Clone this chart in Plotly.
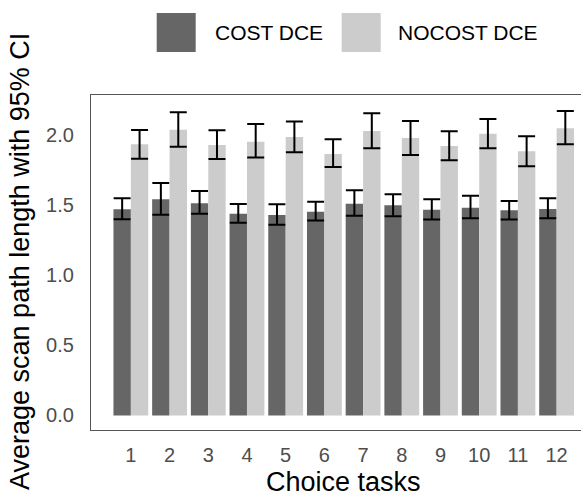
import plotly.graph_objects as go

# ---- data ----
tasks = list(range(1, 13))
tick_labels = [str(t) for t in tasks]

cost_mean = [1.473, 1.544, 1.516, 1.441, 1.432, 1.456, 1.513, 1.501, 1.470, 1.484, 1.466, 1.475]
cost_lo   = [1.401, 1.434, 1.441, 1.377, 1.363, 1.392, 1.427, 1.423, 1.399, 1.408, 1.399, 1.408]
cost_hi   = [1.551, 1.661, 1.604, 1.511, 1.509, 1.527, 1.609, 1.580, 1.544, 1.570, 1.532, 1.551]

nocost_mean = [1.937, 2.041, 1.932, 1.956, 1.989, 1.868, 2.032, 1.982, 1.925, 2.013, 1.887, 2.051]
nocost_lo   = [1.834, 1.920, 1.832, 1.842, 1.880, 1.775, 1.909, 1.861, 1.823, 1.909, 1.780, 1.937]
nocost_hi   = [2.039, 2.166, 2.037, 2.082, 2.099, 1.973, 2.159, 2.104, 2.030, 2.118, 1.994, 2.175]

series_names = ["COST DCE", "NOCOST DCE"]
colors = ["#666666", "#CCCCCC"]

W, H = 581, 498
ML, MR, MT, MB = 91, 0, 95, 68
PW, PH = W - ML - MR, H - MT - MB


def px_x(px):
    return (px - ML) / PW


def px_y(py):
    return (H - MB - py) / PH


fig = go.Figure()
for name, col, m, lo, hi in [
    (series_names[0], colors[0], cost_mean, cost_lo, cost_hi),
    (series_names[1], colors[1], nocost_mean, nocost_lo, nocost_hi),
]:
    fig.add_trace(go.Bar(
        x=tasks, y=m, name=name, marker=dict(color=col, line=dict(width=0)),
        error_y=dict(type="data", symmetric=False,
                     array=[h - v for h, v in zip(hi, m)],
                     arrayminus=[v - l for v, l in zip(m, lo)],
                     color="black", thickness=2, width=8.5),
        showlegend=False,
    ))

fig.update_layout(
    width=W, height=H,
    margin=dict(l=ML, r=MR, t=MT, b=MB, autoexpand=False),
    paper_bgcolor="white", plot_bgcolor="white",
    barmode="group", bargap=0.1, bargroupgap=0,
    font=dict(family="Liberation Sans, Arial, sans-serif", color="black"),
    xaxis=dict(range=[-0.03, 12.63], tickmode="array", tickvals=tasks, ticktext=tick_labels,
               showgrid=False, zeroline=False, showline=True, mirror=True,
               linecolor="#555555", linewidth=1.2, ticks="",
               ticklabelstandoff=7,
               tickfont=dict(size=20, color="#4D4D4D")),
    yaxis=dict(range=[-0.1036, 2.289], tickvals=[0, 0.5, 1.0, 1.5, 2.0], tickformat=".1f",
               showgrid=False, zeroline=False, showline=True, mirror=False,
               linecolor="#555555", linewidth=1.2, ticks="",
               ticklabelstandoff=12,
               tickfont=dict(size=20, color="#4D4D4D")),
)

# axis titles
fig.add_annotation(text="Choice tasks", xref="x", x=6.5, yref="paper", y=px_y(482),
                   xanchor="center", yanchor="middle", showarrow=False,
                   font=dict(size=27, color="black"))
fig.add_annotation(text="Average scan path length with 95% CI", xref="paper", x=px_x(20),
                   yref="paper", y=px_y(262), textangle=-90, xanchor="center", yanchor="middle",
                   showarrow=False, font=dict(size=27, color="black"))

# legend (large keys)
legend_items = [(series_names[0], colors[0], 156.7, 213), (series_names[1], colors[1], 341.7, 396)]
for name, col, kx, tx in legend_items:
    fig.add_shape(type="rect", xref="paper", yref="paper",
                  x0=px_x(kx), x1=px_x(kx + 39), y0=px_y(52), y1=px_y(13),
                  fillcolor=col, line=dict(width=0))
    fig.add_annotation(text=name, xref="paper", yref="paper", x=px_x(tx), y=px_y(32.5),
                       xanchor="left", yanchor="middle", showarrow=False,
                       font=dict(size=21, color="black"))

fig.write_html("out.html", config={"displayModeBar": False},
               post_script="document.body.style.margin='0';document.body.style.overflow='hidden';")
